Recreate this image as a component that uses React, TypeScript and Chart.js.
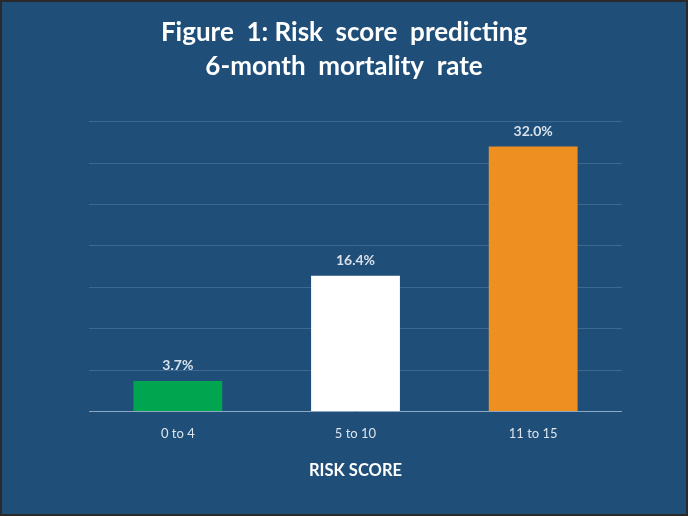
import React, { useEffect, useRef } from "react";
import { Chart, registerables } from "chart.js";

Chart.register(...registerables);

const categories = ["0 to 4", "5 to 10", "11 to 15"];
const mortality = [3.7, 16.4, 32.0];
const valueLabels = ["3.7%", "16.4%", "32.0%"];
const barColors = ["#00A550", "#FFFFFF", "#EE8F22"];
const titleLines = ["Figure  1: Risk  score  predicting", "6-month  mortality  rate"];
const xAxisTitle = "RISK SCORE";

const BG = "#1F4E79";

const valueLabelPlugin = {
  id: "valueLabels",
  afterDatasetsDraw(chart: any) {
    const ctx = chart.ctx;
    const meta = chart.getDatasetMeta(0);
    ctx.save();
    ctx.font = "bold 14px Lato";
    ctx.fillStyle = "#D8E0E9";
    ctx.textAlign = "center";
    ctx.textBaseline = "middle";
    meta.data.forEach((bar: any, i: number) => {
      ctx.fillText(valueLabels[i], bar.x, bar.y - 15);
    });
    ctx.restore();
  },
};

export default function App() {
  const ref = useRef<HTMLCanvasElement | null>(null);
  useEffect(() => {
    document.body.style.margin = "0";
    const chart = new Chart(ref.current!, {
      type: "bar",
      data: {
        labels: categories,
        datasets: [
          {
            data: mortality,
            backgroundColor: barColors,
            borderWidth: 0,
            barPercentage: 0.5,
            categoryPercentage: 1,
          },
        ],
      },
      options: {
        animation: false,
        responsive: true,
        maintainAspectRatio: false,
        layout: { padding: { left: 64, right: 64, top: 0, bottom: 33 } },
        plugins: {
          legend: { display: false },
          tooltip: { enabled: false },
          title: {
            display: true,
            text: titleLines,
            color: "#FFFFFF",
            font: { family: "Lato", size: 26, weight: "bold", lineHeight: 1.3 },
            padding: { top: 14, bottom: 38 },
          },
        },
        scales: {
          x: {
            grid: { display: false, drawTicks: false },
            border: { display: false },
            ticks: { color: "#DCE4EC", font: { family: "Lato", size: 13 }, padding: 14 },
            title: {
              display: true,
              text: xAxisTitle,
              color: "#FFFFFF",
              font: { family: "Lato", size: 16.5, weight: "bold" },
              padding: { top: 6, bottom: 0 },
            },
          },
          y: {
            min: 0,
            max: 35,
            afterFit: (scale: any) => {
              scale.width = 23;
            },
            ticks: { display: false, stepSize: 5 },
            border: { display: false },
            grid: {
              drawTicks: false,
              lineWidth: 1,
              color: (c: any) => (c.tick && c.tick.value === 0 ? "#8FA8C2" : "#3C6891"),
            },
          },
        },
      },
      plugins: [valueLabelPlugin],
    });
    return () => chart.destroy();
  }, []);
  return (
    <div
      style={{
        position: "fixed",
        left: 0,
        top: 0,
        width: 688,
        height: 516,
        boxSizing: "border-box",
        border: "2px solid #2A2A2A",
        background: BG,
      }}
    >
      <canvas ref={ref} />
    </div>
  );
}
